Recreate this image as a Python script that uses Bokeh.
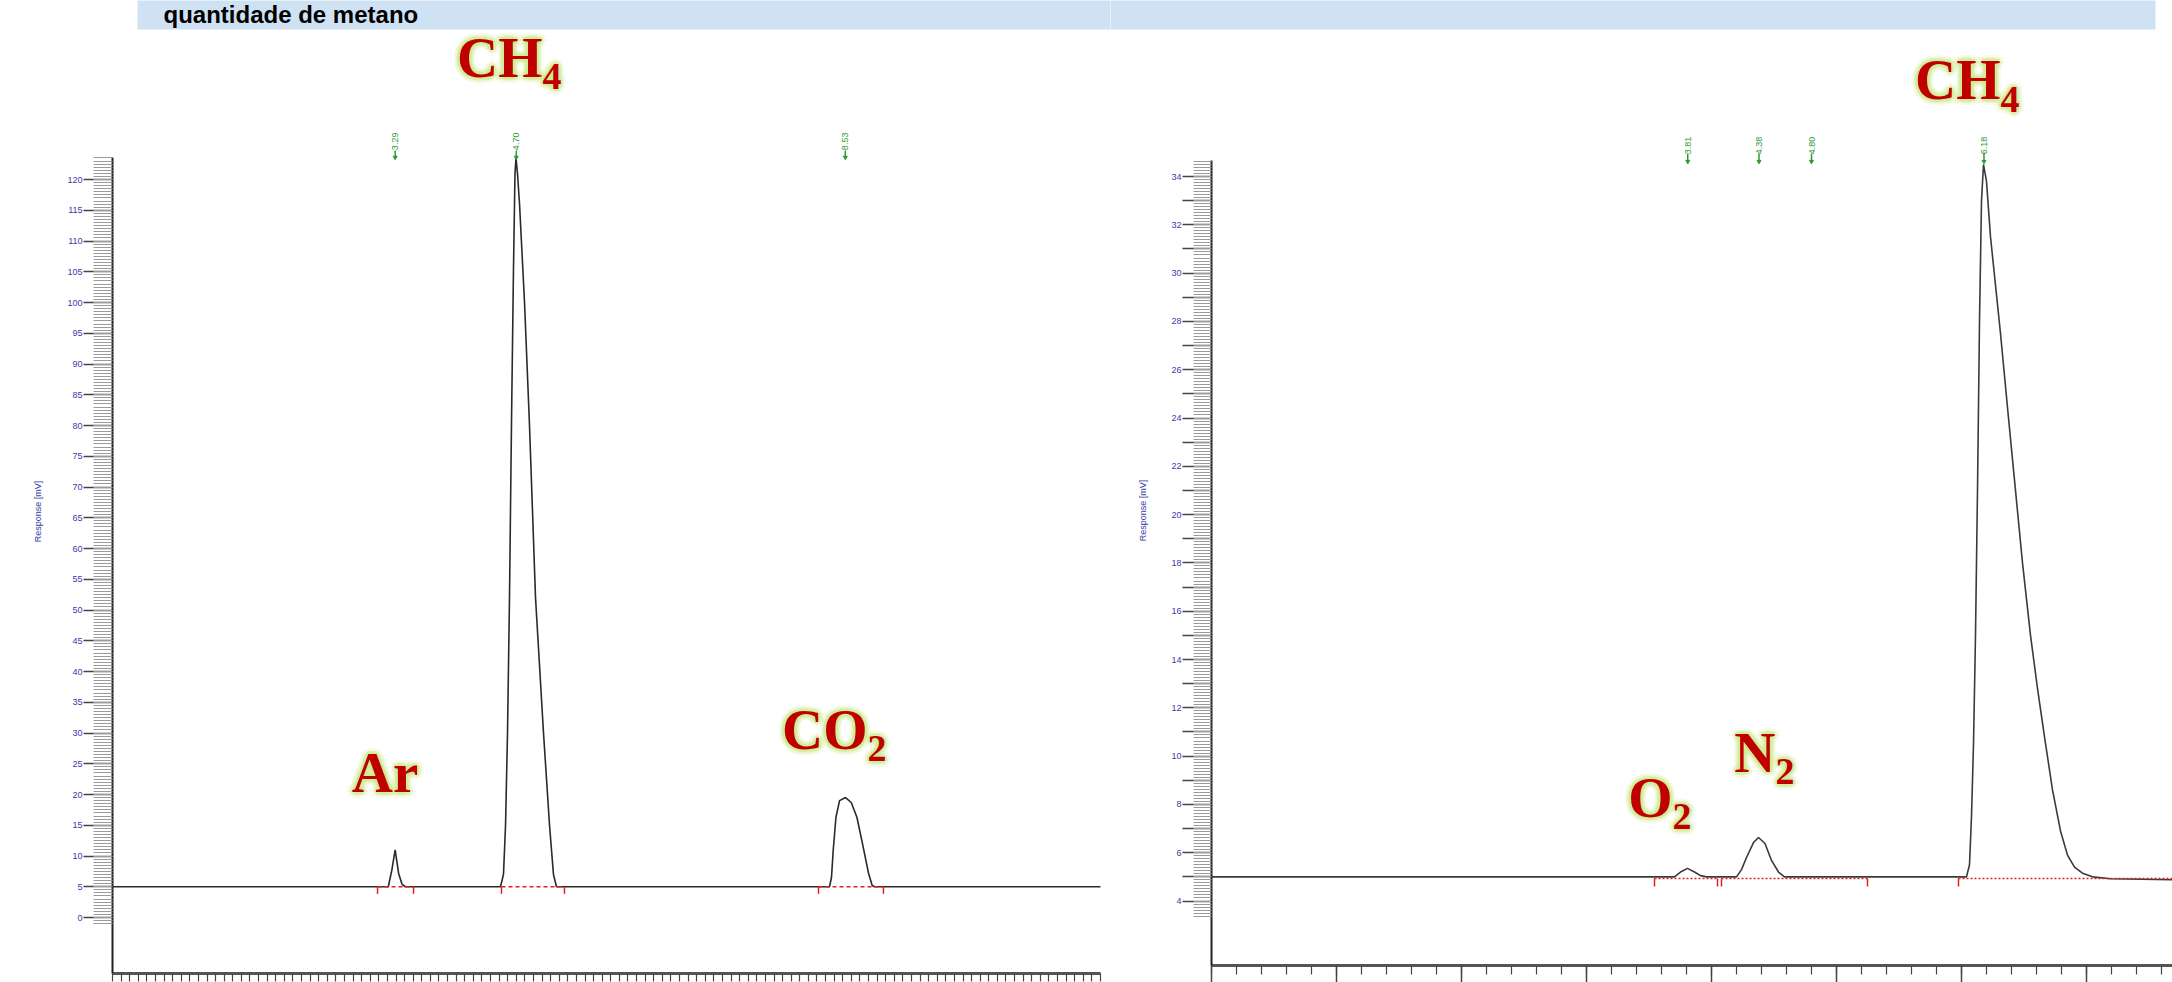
import numpy as np
from bokeh.plotting import figure
from bokeh.models import FixedTicker, Range1d, CustomJSTickFormatter
from bokeh.layouts import row
from bokeh.embed import file_html
from bokeh.resources import INLINE
from bokeh.core.properties import value

# ---------------- data ----------------
TITLE = "quantidade de metano"
Y_LABEL = "Response [mV]"

# left chromatogram: Ar, CH4, CO2  (time [min], response)
left_time = [0.0, 3.21, 3.25, 3.29, 3.33, 3.37, 3.41,
             4.516, 4.551, 4.575, 4.598, 4.621, 4.644, 4.667, 4.685, 4.697, 4.714,
             4.738, 4.796, 4.854, 4.924, 5.017, 5.087, 5.133, 5.168,
             8.346, 8.369, 8.389, 8.421, 8.463, 8.533, 8.599, 8.665, 8.730, 8.800,
             8.843, 8.870, 11.5]
left_resp = [5.0, 5.0, 7.6, 11.0, 7.2, 5.4, 5.0,
             5.0, 7.0, 15.0, 30.0, 52.0, 80.0, 105.0, 121.0, 123.5, 121.0,
             116.0, 100.0, 80.0, 52.0, 30.0, 15.0, 7.0, 5.0,
             5.0, 6.5, 10.9, 16.3, 19.0, 19.5, 18.7, 16.3, 12.0, 7.2,
             5.2, 5.0, 5.0]
left_int_start = [3.085, 4.528, 8.218]
left_int_end = [3.504, 5.261, 8.974]
left_marks = [3.29, 4.70, 8.53]
left_names = [("Ar", ""), ("CH", "4"), ("CO", "2")]
left_y_ticks = list(range(0, 121, 5))

# right chromatogram: O2, N2, CH4
right_time = [0.0, 3.704, 3.752, 3.808, 3.864, 3.912, 3.96,
              4.2, 4.24, 4.28, 4.336, 4.376, 4.428, 4.48, 4.536, 4.584,
              6.040, 6.064, 6.080, 6.096, 6.112, 6.128, 6.144, 6.160, 6.176,
              6.200, 6.232, 6.272, 6.312, 6.376, 6.432, 6.488, 6.552, 6.608,
              6.664, 6.728, 6.792, 6.848, 6.904, 6.968, 7.048, 7.192, 7.688]
right_resp = [5.0, 5.0, 5.2, 5.35, 5.2, 5.05, 5.0,
              5.0, 5.3, 5.8, 6.42, 6.63, 6.38, 5.68, 5.2, 5.0,
              5.0, 5.5, 7.5, 10.5, 15.0, 21.0, 28.0, 33.0, 34.5,
              33.8, 31.5, 29.5, 27.5, 24.0, 21.0, 18.0, 15.0, 12.8,
              10.8, 8.6, 6.9, 5.9, 5.4, 5.15, 5.0, 4.92, 4.88]
right_int_start = [3.544, 4.080, 5.976]
right_int_end = [4.048, 5.248, 7.900]
right_marks = [3.81, 4.38, 4.80, 6.18]
right_names = [("O", "2"), ("N", "2"), ("CH", "4")]
right_y_ticks = list(range(4, 35))

# ---------------- layout (page pixels -> data) ----------------
# left panel: x = (px - 112) / 85.91 ; y = (917 - py) / 6.15
LX0, LX1 = -112 / 85.91, (1110 - 112) / 85.91
LY0, LY1 = (917 - 982) / 6.15, 917 / 6.15
L_AXIS_Y = (917 - 973) / 6.15
L_BAND = ((137 - 112) / 85.91, LX1 + 0.2, (917 - 29) / 6.15, LY1 + 1)
L_TITLE = ((163 - 112) / 85.91, (917 - 14) / 6.15)
L_YLAB = ((37 - 112) / 85.91, (917 - 511) / 6.15)
# right panel: x = (px - 1211) / 125 ; y = 34 - (py - 176) / 24.15
RX0, RX1 = -101 / 125, 961 / 125
RY0, RY1 = 34 - (982 - 176) / 24.15, 34 + 176 / 24.15
R_AXIS_Y = 34 - (965 - 176) / 24.15
R_BAND = (RX0 - 0.2, (2155 - 1211) / 125, 34 + (176 - 29) / 24.15, RY1 + 1)
R_YLAB = ((1142 - 1211) / 125, 34 - (510 - 176) / 24.15)

# label anchors (x, baseline y, subscript drop in px)
LEFT_LABEL_POS = [(3.172, 20.16, 0), (5.005, 136.42, 12), (8.788, 27.15, 12)]
RIGHT_LABEL_POS = [(3.688, 7.416, 12), (4.512, 9.28, 12), (6.312, 37.147, 13)]

# ---------------- styling helpers ----------------
BLUE = "#3a3aa8"
RED = "#c00000"
GLOW = "#cdeb8b"
GREEN = "#2e9a36"
BAND = "#cfe2f3"
SERIF = value("Liberation Serif")
MAIN_PX, SUB_PX = 57, 38


def style_y(p, ax, major, minor, bounds, major_out, minor_out, lab_pos, formatter=None):
    ax.fixed_location = 0.0
    ax.ticker = FixedTicker(ticks=major, minor_ticks=minor)
    ax.bounds = bounds
    ax.axis_line_color = "#222222"
    ax.axis_line_width = 2
    ax.major_tick_out = major_out
    ax.major_tick_in = 0
    ax.major_tick_line_color = "#444444"
    ax.major_tick_line_width = 1.5
    ax.minor_tick_out = minor_out
    ax.minor_tick_in = 0
    ax.minor_tick_line_color = "#9a9a9a"
    ax.minor_tick_line_width = 1
    ax.major_label_text_color = BLUE
    ax.major_label_text_font = "Liberation Sans"
    ax.major_label_text_font_size = "9px"
    ax.major_label_standoff = 1
    if formatter is not None:
        ax.formatter = formatter
    p.text(x=[lab_pos[0]], y=[lab_pos[1]], text=[Y_LABEL], angle=np.pi / 2,
           text_color=BLUE, text_font=value("Liberation Sans"), text_font_size="9px",
           text_align="center", text_baseline="middle")


def style_x(ax, at, bounds, major, minor, major_out, minor_out):
    ax.fixed_location = at
    ax.bounds = bounds
    ax.ticker = FixedTicker(ticks=major, minor_ticks=minor)
    ax.formatter = CustomJSTickFormatter(code="return '';")
    ax.axis_line_color = "#555555"
    ax.axis_line_width = 3
    ax.major_tick_out = major_out
    ax.major_tick_in = 0
    ax.major_tick_line_color = "#444444"
    ax.major_tick_line_width = 1.5
    ax.minor_tick_out = minor_out
    ax.minor_tick_in = 0
    ax.minor_tick_line_color = "#444444"
    ax.minor_tick_line_width = 1.2
    ax.major_label_standoff = 0


def peak_label(p, x, y, main, sub, drop):
    align = "right" if sub else "center"
    parts = [(main, MAIN_PX, align, -0.37 * MAIN_PX)]
    if sub:
        parts.append((sub, SUB_PX, "left", drop - 0.37 * SUB_PX))
    for txt, px, al, yoff in parts:
        size = "%dpx" % px
        for r, a in ((6, 0.18), (3, 0.4)):
            for k in range(8):
                ang = k * np.pi / 4
                p.text(x=[x], y=[y], text=[txt],
                       x_offset=float(r * np.cos(ang)),
                       y_offset=float(yoff + r * np.sin(ang)),
                       text_color=GLOW, text_alpha=a, text_font=SERIF,
                       text_font_style="bold", text_font_size=size,
                       text_align=al, text_baseline="alphabetic")
        p.text(x=[x], y=[y], text=[txt], y_offset=float(yoff), text_color=RED,
               text_font=SERIF, text_font_style="bold", text_font_size=size,
               text_align=al, text_baseline="alphabetic")


def marks(p, xs, y_text, y_top, y_bot):
    p.text(x=xs, y=[y_text] * len(xs), text=["%.2f" % t for t in xs],
           angle=np.pi / 2, text_color=GREEN, text_font=value("Liberation Sans"),
           text_font_size="9px", text_align="center", text_baseline="middle")
    p.segment(x0=xs, y0=[y_top] * len(xs), x1=xs, y1=[y_bot] * len(xs),
              line_color=GREEN, line_width=1.5)
    p.scatter(x=xs, y=[y_bot] * len(xs), marker="inverted_triangle", size=4,
              color=GREEN)


def integration(p, starts, ends, base, depth, dash):
    p.segment(x0=starts, y0=[base] * len(starts), x1=ends, y1=[base] * len(ends),
              line_color="#e02020", line_width=1.5, line_dash=dash)
    xs = starts + ends
    p.segment(x0=xs, y0=[base] * len(xs), x1=xs, y1=[base - depth] * len(xs),
              line_color="#e02020", line_width=1.5)


def panel(width, xr, yr):
    p = figure(width=width, height=982, x_range=Range1d(*xr), y_range=Range1d(*yr),
               toolbar_location=None, output_backend="svg", min_border=0)
    p.outline_line_color = None
    p.grid.visible = False
    p.background_fill_color = "white"
    p.border_fill_color = "white"
    return p


# ---------------- left chromatogram ----------------
lp = panel(1110, (LX0, LX1), (LY0, LY1))
lp.quad(left=[L_BAND[0]], right=[L_BAND[1]], bottom=[L_BAND[2]], top=[L_BAND[3]],
        fill_color=BAND, line_color=None)
lp.text(x=[L_TITLE[0]], y=[L_TITLE[1]], text=[TITLE], text_font=value("Liberation Sans"),
        text_font_style="bold", text_font_size="24px", text_color="black",
        text_baseline="alphabetic", text_align="left")
style_y(lp, lp.yaxis[0], left_y_ticks, list(np.arange(-1.0, 123.6, 0.5)), (L_AXIS_Y, 123.6),
        29, 19, L_YLAB)
style_x(lp.xaxis[0], L_AXIS_Y, (0.0, 11.5), [], list(np.arange(0, 11.51, 0.1)), 0, 8)
lp.line(left_time, left_resp, line_color="#2a2a2a", line_width=1.6)
integration(lp, left_int_start, left_int_end, 5.0, 1.15, "4 3")
marks(lp, left_marks, 126.2, 124.7, 123.6)
for (main, sub), (x, y, d) in zip(left_names, LEFT_LABEL_POS):
    peak_label(lp, x, y, main, sub, d)

# ---------------- right chromatogram ----------------
rp = panel(1062, (RX0, RX1), (RY0, RY1))
rp.quad(left=[R_BAND[0]], right=[R_BAND[1]], bottom=[R_BAND[2]], top=[R_BAND[3]],
        fill_color=BAND, line_color=None)
even_only = CustomJSTickFormatter(code="return (Math.round(tick) % 2 === 0) ? tick.toFixed(0) : '';")
style_y(rp, rp.yaxis[0], right_y_ticks, list(np.arange(3.375, 34.66, 0.125)), (R_AXIS_Y, 34.66),
        29, 18, R_YLAB, formatter=even_only)
style_x(rp.xaxis[0], R_AXIS_Y, (0.0, RX1), list(range(0, 8)), list(np.arange(0, 7.69, 0.2)), 17, 9)
rp.line(right_time, right_resp, line_color="#3a3a3a", line_width=1.6)
integration(rp, right_int_start, right_int_end, 4.93, 0.33, "2 2")
marks(rp, right_marks, 35.28, 34.95, 34.62)
for (main, sub), (x, y, d) in zip(right_names, RIGHT_LABEL_POS):
    peak_label(rp, x, y, main, sub, d)

layout = row(lp, rp, spacing=0)

open("out.html", "w").write(file_html(layout, INLINE))
